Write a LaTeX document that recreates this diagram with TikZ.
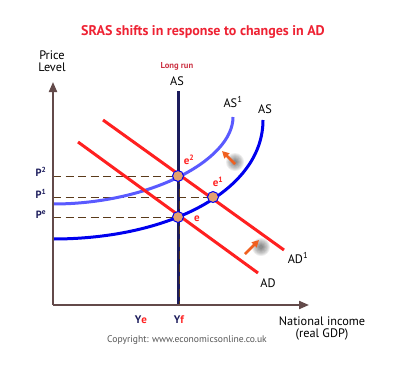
\documentclass[tikz,border=0pt]{standalone}
\usepackage{fontspec}
\setmainfont{PT Sans}
\usetikzlibrary{arrows.meta}
\definecolor{titlered}{HTML}{EE2233}
\definecolor{adred}{HTML}{FF2020}
\definecolor{srasblue}{HTML}{0000EE}
\definecolor{as1blue}{HTML}{5A5AFF}
\definecolor{navy}{HTML}{1C1C5C}
\definecolor{axisc}{HTML}{634A4A}
\definecolor{dashc}{HTML}{5A3A1A}
\definecolor{ptfill}{HTML}{E3A06E}
\definecolor{arrowor}{HTML}{F06020}
\definecolor{lrred}{HTML}{CC3344}
\definecolor{copyc}{HTML}{555555}
\begin{document}
\begin{tikzpicture}[x=1pt,y=-1pt,
  axisline/.style={draw=axisc,line width=2pt,-{Triangle[length=10pt,width=8pt]}},
  guide/.style={draw=dashc,line width=0.9pt,dash pattern=on 8pt off 4.5pt},
  adline/.style={draw=adred,line width=3pt},
  eqpt/.style={circle,draw=srasblue,line width=1pt,fill=ptfill,minimum size=11pt,inner sep=0pt},
  shiftarrow/.style={draw=arrowor,line width=2.5pt,-{Triangle[length=7pt,width=7pt]}},
  lbl/.style={font=\fontsize{12.3}{13}\selectfont,text=black,inner sep=0pt},
  plbl/.style={font=\fontsize{10.5}{11}\selectfont\bfseries,text=navy,inner sep=0pt},
  elbl/.style={font=\fontsize{11}{12}\selectfont\bfseries,text=adred,inner sep=0pt},
  softshadow/.style={fill=black,opacity=0.07}]
\useasboundingbox (0,0) rectangle (395,367);

% title
\node[font=\fontsize{14}{16}\selectfont\bfseries,text=titlered] (title) at (203,32) {SRAS shifts in response to changes in AD};

% key coordinates
\coordinate (O) at (53,305);
\coordinate (ytop) at (53,82);
\coordinate (xend) at (309,305);
\coordinate (E2) at (178,176);
\coordinate (E1) at (213,197);
\coordinate (E) at (178,217);
\coordinate (P2) at (53,176);
\coordinate (P1) at (53,197);
\coordinate (PE) at (53,217);
\coordinate (lrtop) at (178,91);
\coordinate (lrbot) at (178,305);
\coordinate (vdtop) at (179.5,176);
\coordinate (vdbot) at (179.5,305);

% axis labels
\node[lbl,align=center] (price) at (52,61) {Price\\[-1pt]Level};
\node[lbl,align=center] (natinc) at (322,328) {National income\\[-1pt](real GDP)};
\node[font=\fontsize{9.6}{10}\selectfont,text=copyc] (copy) at (187,340) {Copyright: www.economicsonline.co.uk};

% dashed guides
\draw[guide] (P2) -- (E2);
\draw[guide] (P1) -- (E1);
\draw[guide] (PE) -- (E);

% long-run AS
\draw[navy,line width=3pt] (lrtop) -- (lrbot);
\draw[guide,line width=0.8pt] (vdtop) -- (vdbot);
\node[font=\fontsize{8.6}{9}\selectfont\bfseries,text=lrred] (lrlbl) at (177,66) {Long run};
\node[lbl] (lraslbl) at (177,81) {AS};

% SRAS curves
\coordinate (as0s) at (53,239);
\coordinate (as0e) at (263,120);
\draw[srasblue,line width=3pt] (as0s) .. controls (170,239) and (263,190) .. (as0e);
\coordinate (as1s) at (53,204);
\coordinate (as1e) at (233,117);
\draw[as1blue,line width=3pt] (as1s) .. controls (150,204) and (233,160) .. (as1e);
\node[lbl] (as1lbl) at (233,102) {AS\textsuperscript{1}};
\node[lbl] (aslbl) at (265,109) {AS};

% AD curves
\coordinate (ad0s) at (78,142);
\coordinate (ad0e) at (258,273);
\coordinate (ad1s) at (103,120);
\coordinate (ad1e) at (284,250);
\draw[adline] (ad0s) -- (ad0e);
\draw[adline] (ad1s) -- (ad1e);
\node[lbl] (ad1lbl) at (298,258) {AD\textsuperscript{1}};
\node[lbl] (adlbl) at (268,283) {AD};

% axes
\draw[axisline] (O) -- (ytop);
\draw[axisline] (O) -- (xend);

% equilibrium points
\node[eqpt] (e2pt) at (E2) {};
\node[eqpt] (e1pt) at (E1) {};
\node[eqpt] (ept) at (E) {};
\node[elbl] (e2lbl) at (189,160) {e\textsuperscript{2}};
\node[elbl] (e1lbl) at (218,182) {e\textsuperscript{1}};
\node[elbl] (elbl) at (197,219) {e};

% price labels
\node[plbl] (p2lbl) at (41,172) {P\textsuperscript{2}};
\node[plbl] (p1lbl) at (41,194) {P\textsuperscript{1}};
\node[plbl] (pelbl) at (41,215) {P\textsuperscript{e}};

% income labels
\node[font=\fontsize{11}{12}\selectfont\bfseries,inner sep=0pt] (ye) at (141,320) {\textcolor{navy}{Y}\textcolor{adred}{e}};
\node[font=\fontsize{11}{12}\selectfont\bfseries,inner sep=0pt] (yf) at (179,320) {\textcolor{navy}{Y}\textcolor{adred}{f}};

% soft shadows
\foreach \r in {2,3,...,9} {
  \fill[softshadow] (235,162) circle (\r);
  \fill[softshadow] (261,247) circle (\r);
}
% shift arrows
\coordinate (a1t) at (235,164);
\coordinate (a1h) at (222,151);
\coordinate (a2t) at (245,254);
\coordinate (a2h) at (259,240);
\draw[shiftarrow] (a1t) -- (a1h);
\draw[shiftarrow] (a2t) -- (a2h);
\end{tikzpicture}
\end{document}
